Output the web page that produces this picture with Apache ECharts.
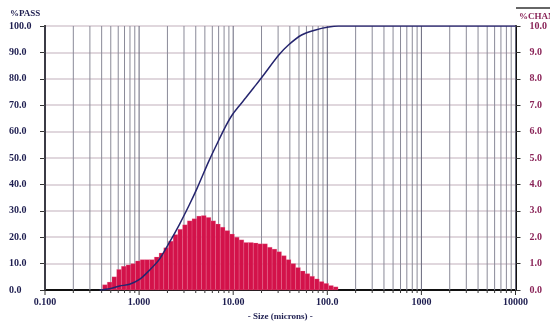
<!DOCTYPE html>
<html>
<head>
<meta charset="utf-8">
<script src="https://cdn.jsdelivr.net/npm/echarts@6/dist/echarts.min.js"></script>
<style>
  html, body { margin: 0; padding: 0; background: #fff; }
  #chartRoot { width: 550px; height: 326px; }
</style>
</head>
<body>
<div id="chartRoot"></div>
<script>
// channel edges (microns), lower edge of each channel + last upper edge
const binEdges = [
  0.409, 0.459, 0.515, 0.578, 0.648, 0.728, 0.816, 0.916, 1.028, 1.153,
  1.294, 1.452, 1.630, 1.829, 2.052, 2.303, 2.584, 2.900, 3.254, 3.652,
  4.098, 4.599, 5.161, 5.791, 6.499, 7.293, 8.184, 9.183, 10.30, 11.56,
  12.97, 14.56, 16.34, 18.33, 20.57, 23.09, 25.91, 29.07, 32.62, 36.61,
  41.08, 46.10, 51.73, 58.05, 65.14, 73.10, 82.03, 92.05, 103.3, 115.9,
  130.1
];
// % in each channel (right axis)
const chanPct = [
  0.2, 0.3, 0.5, 0.78, 0.9, 0.95, 1.0, 1.1, 1.15, 1.15,
  1.15, 1.25, 1.4, 1.6, 1.85, 2.1, 2.3, 2.47, 2.62, 2.7,
  2.8, 2.82, 2.75, 2.62, 2.5, 2.38, 2.25, 2.12, 2.0, 1.9,
  1.8, 1.8, 1.78, 1.75, 1.75, 1.62, 1.55, 1.45, 1.3, 1.15,
  1.0, 0.85, 0.72, 0.62, 0.52, 0.42, 0.32, 0.25, 0.17, 0.12
];
// cumulative % passing (left axis)
const passSize = [0.38, 0.486, 0.621, 0.793, 1.01, 1.29, 1.64, 2.10, 2.67, 3.41,
  4.14, 5.54, 7.08, 8.3, 9.71, 11.5, 13.6, 16.5, 20.1, 30.5, 38.9, 53.3, 75, 103, 131, 10000];
const passPct = [0, 0.5, 1.5, 2.2, 4, 7.5, 11.6, 18, 24.7, 32.2,
  38.6, 49, 57, 62, 66.2, 69.6, 72.8, 76.6, 80.5, 89, 92.9, 96.6, 98.5, 99.6, 100, 100];

const xTickLabels = ["0.100", "1.000", "10.00", "100.0", "1000", "10000"];
const gridDecades = [0.1, 1, 10, 100, 1000];
const gridMantissas = [1, 2, 3, 4, 5, 6, 7, 8, 9];

const labelFont = { fontFamily: "Liberation Serif", fontWeight: "bold", fontSize: 10 };

const gridValues = [];
gridDecades.forEach((d) => {
  gridMantissas.forEach((m) => gridValues.push([+(d * m).toPrecision(3), 0]));
});
gridValues.push([10000, 0]);

const chanData = chanPct.map((v, i) => [binEdges[i], binEdges[i + 1], v]);
const passData = passSize.map((s, i) => [s, passPct[i]]);

const chartDom = document.getElementById("chartRoot");
const myChart = echarts.init(chartDom);

const option = {
  animation: false,
  backgroundColor: "#ffffff",
  grid: { left: 45, right: 32, top: 26, bottom: 33 },
  xAxis: {
    type: "log",
    logBase: 10,
    min: 0.1,
    max: 10000,
    name: "- Size (microns) -",
    nameLocation: "middle",
    nameGap: 22,
    nameTextStyle: { ...labelFont, fontSize: 9, color: "#1e1e50" },
    axisLine: { lineStyle: { color: "#111", width: 2 } },
    axisTick: { show: false },
    splitLine: { show: false },
    axisLabel: {
      ...labelFont,
      color: "#1e1e50",
      margin: 7,
      formatter(value) {
        const i = Math.round(Math.log10(value)) + 1;
        return xTickLabels[i] || "";
      },
    },
  },
  yAxis: [
    {
      type: "value",
      min: 0,
      max: 100,
      interval: 10,
      position: "left",
      axisLine: { show: true, lineStyle: { color: "#111", width: 2 } },
      axisTick: { show: true, length: 5, lineStyle: { color: "#333" } },
      splitLine: { show: true, lineStyle: { color: "#d6cad2", width: 1.5 } },
      axisLabel: {
        ...labelFont,
        color: "#1e1e50",
        align: "left",
        margin: 36,
        formatter: (v) => v.toFixed(1),
      },
    },
    {
      type: "value",
      min: 0,
      max: 10,
      interval: 1,
      position: "right",
      axisLine: { show: true, lineStyle: { color: "#111", width: 2 } },
      axisTick: { show: true, length: 5, lineStyle: { color: "#333" } },
      splitLine: { show: false },
      axisLabel: {
        ...labelFont,
        color: "#8a2458",
        margin: 14,
        formatter: (v) => v.toFixed(1),
      },
    },
  ],
  graphic: [
    { type: "text", left: 10, top: 9, style: { text: "%PASS", ...labelFont, fontSize: 9, fill: "#1e1e50" } },
    { type: "text", left: 519, top: 12, style: { text: "%CHAN", ...labelFont, fontSize: 9, fill: "#8a2458" } },
    { type: "line", shape: { x1: 516, y1: 8, x2: 550, y2: 8 }, style: { stroke: "#333", lineWidth: 1.5 } },
  ],
  series: [
    {
      name: "grid",
      type: "custom",
      silent: true,
      z: 1,
      data: gridValues,
      encode: { x: 0, y: 1 },
      renderItem(params, api) {
        const v = api.value(0);
        const top = api.coord([v, 100]);
        const bot = api.coord([v, 0]);
        const major = Math.abs(Math.log10(v) - Math.round(Math.log10(v))) < 1e-6;
        return {
          type: "group",
          children: [
            {
              type: "line",
              shape: { x1: top[0], y1: top[1], x2: bot[0], y2: bot[1] },
              style: { stroke: major ? "#66667a" : "#8a8a98", lineWidth: 1 },
            },
            {
              type: "line",
              shape: { x1: bot[0], y1: bot[1], x2: bot[0], y2: bot[1] + (major ? 5 : 3) },
              style: { stroke: "#333", lineWidth: 1 },
            },
          ],
        };
      },
    },
    {
      name: "%CHAN",
      type: "custom",
      yAxisIndex: 1,
      z: 2,
      data: chanData,
      encode: { x: [0, 1], y: 2 },
      renderItem(params, api) {
        const p1 = api.coord([api.value(0), api.value(2)]);
        const p2 = api.coord([api.value(1), 0]);
        return {
          type: "rect",
          shape: { x: p1[0], y: p1[1], width: p2[0] - p1[0], height: p2[1] - p1[1] },
          style: { fill: "#d3124a", stroke: "rgba(240,140,170,0.45)", lineWidth: 0.5 },
        };
      },
    },
    {
      name: "%PASS",
      type: "line",
      yAxisIndex: 0,
      z: 3,
      smooth: 0.3,
      symbol: "none",
      data: passData,
      lineStyle: { color: "#25256e", width: 1.5 },
    },
  ],
};

myChart.setOption(option);
</script>
</body>
</html>
